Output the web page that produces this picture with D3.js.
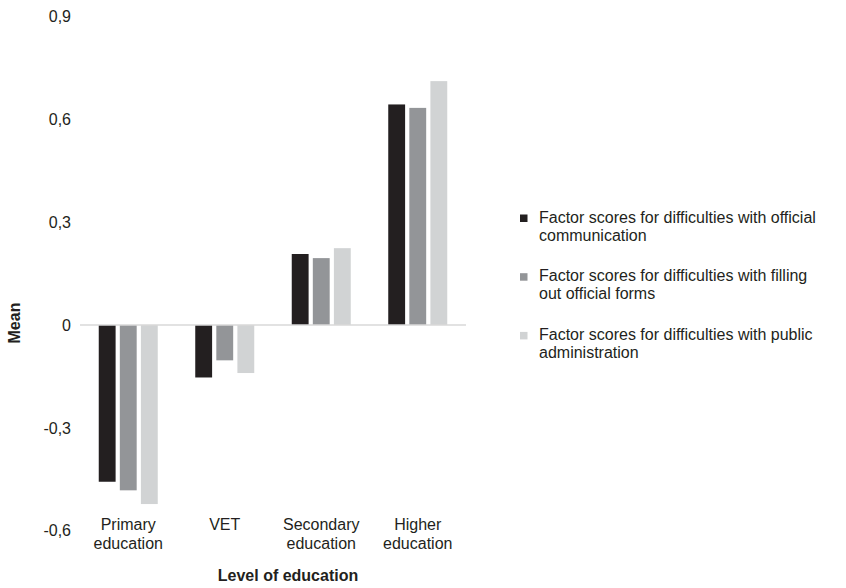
<!DOCTYPE html>
<html>
<head>
	<meta charset="utf-8">
	<script src="https://d3js.org/d3.v7.min.js"></script>
	<title>Level of education</title>
	<style>
		body { margin: 0; background: #fff; }
		text { font-family: "Liberation Sans", Arial, sans-serif; fill: #231f20; }
	</style>
</head>
<body>
	<div id="chart"></div>

	<script type="text/javascript">

		// data
		var categories = ["Primary education", "VET", "Secondary education", "Higher education"];
		var catLines = [["Primary", "education"], ["VET"], ["Secondary", "education"], ["Higher", "education"]];
		var seriesNames = [
			"Factor scores for difficulties with official communication",
			"Factor scores for difficulties with filling out official forms",
			"Factor scores for difficulties with public administration"
		];
		var legendLines = [
			["Factor scores for difficulties with official", "communication"],
			["Factor scores for difficulties with filling", "out official forms"],
			["Factor scores for difficulties with public", "administration"]
		];
		var communication = [-0.457, -0.153, 0.207, 0.643];
		var forms = [-0.482, -0.103, 0.195, 0.633];
		var administration = [-0.522, -0.140, 0.224, 0.711];
		var yTicks = [-0.6, -0.3, 0, 0.3, 0.6, 0.9];
		var colors = ["#231f20", "#939598", "#d1d3d4"];

		var series = [communication, forms, administration];

		var width = 846, height = 588;
		var fs = 16;

		var svg = d3.select("#chart").append("svg")
			.attr("width", width)
			.attr("height", height);

		var xScale = d3.scaleBand()
			.domain(categories)
			.range([80, 466]);

		var x1 = d3.scaleBand()
			.domain(d3.range(3))
			.range([xScale.bandwidth() / 2 - 29.5, xScale.bandwidth() / 2 + 29.5])
			.paddingInner(0.2);

		var yScale = d3.scaleLinear()
			.domain([-0.6, 0.9])
			.range([530.8, 16.3]);

		// y axis, labels only
		var yAxis = d3.axisLeft(yScale)
			.tickValues(yTicks)
			.tickSize(0)
			.tickPadding(9)
			.tickFormat(function(d){ return d3.format(".1f")(d).replace(".", ",").replace("0,0", "0").replace("−", "-"); });

		var gy = svg.append("g")
			.attr("transform", "translate(80,0)")
			.call(yAxis);
		gy.select(".domain").remove();
		gy.selectAll("text")
			.attr("font-size", fs)
			.attr("font-family", "'Liberation Sans', Arial, sans-serif")
			.attr("fill", "#231f20");

		// bars
		var groups = svg.selectAll("g.cat")
			.data(categories).enter().append("g")
			.attr("class", "cat")
			.attr("transform", function(d){ return "translate(" + xScale(d) + ",0)"; });

		groups.selectAll("rect")
			.data(function(d, i){ return series.map(function(s, j){ return {s: j, v: s[i]}; }); })
			.enter().append("rect")
			.attr("x", function(d){ return x1(d.s); })
			.attr("width", x1.bandwidth())
			.attr("y", function(d){ return yScale(Math.max(0, d.v)); })
			.attr("height", function(d){ return Math.abs(yScale(d.v) - yScale(0)); })
			.attr("fill", function(d){ return colors[d.s]; });

		// zero line
		svg.append("line")
			.attr("x1", 80).attr("x2", 466)
			.attr("y1", yScale(0)).attr("y2", yScale(0))
			.attr("stroke", "#d9d9d9")
			.attr("stroke-width", 1.5);

		// category labels
		var catText = svg.selectAll("text.cat")
			.data(categories).enter().append("text")
			.attr("class", "cat")
			.attr("x", function(d){ return xScale(d) + xScale.bandwidth() / 2; })
			.attr("y", 530)
			.attr("text-anchor", "middle")
			.attr("font-size", fs);
		catText.each(function(d, i){
			var t = d3.select(this);
			catLines[i].forEach(function(line, k){
				t.append("tspan")
					.attr("x", xScale(d) + xScale.bandwidth() / 2)
					.attr("dy", k == 0 ? 0 : 19)
					.text(line);
			});
		});

		// axis titles
		svg.append("text")
			.attr("x", 288)
			.attr("y", 581)
			.attr("text-anchor", "middle")
			.attr("font-size", fs)
			.attr("font-weight", "bold")
			.text("Level of education");

		svg.append("text")
			.attr("transform", "translate(20,323) rotate(-90)")
			.attr("text-anchor", "middle")
			.attr("font-size", fs)
			.attr("font-weight", "bold")
			.text("Mean");

		// legend
		var legend = svg.selectAll("g.legend")
			.data(seriesNames).enter().append("g")
			.attr("class", "legend")
			.attr("transform", function(d, i){ return "translate(520," + (212 + i * 58.7) + ")"; });

		legend.append("rect")
			.attr("x", 0).attr("y", 2.5)
			.attr("width", 7.5).attr("height", 7.5)
			.attr("fill", function(d, i){ return colors[i]; });

		legend.append("text")
			.attr("x", 19)
			.attr("y", 10.5)
			.attr("font-size", fs)
			.each(function(d, i){
				var t = d3.select(this);
				legendLines[i].forEach(function(line, k){
					t.append("tspan")
						.attr("x", 19)
						.attr("dy", k == 0 ? 0 : 18)
						.text(line);
				});
			});

	</script>
</body>
</html>
